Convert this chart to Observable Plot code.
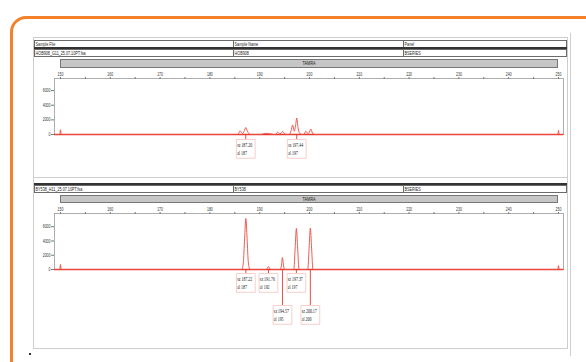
<!DOCTYPE html>
<html><head><meta charset="utf-8">
<script src="https://cdn.jsdelivr.net/npm/d3@7"></script>
<script src="https://cdn.jsdelivr.net/npm/@observablehq/plot@0.6"></script>
<style>
html,body{margin:0;padding:0;background:#fff;}
#page{position:relative;width:586px;height:362px;overflow:hidden;background:#fff;font-family:"Liberation Sans",Arial,sans-serif;}
.abs{position:absolute;box-sizing:border-box;}
.orange{left:10px;top:16px;width:640px;height:420px;border:3px solid #f5802a;border-radius:16px;}
.panel{left:33px;width:535px;border:1px solid #cdcdcd;}
.edge{left:570px;top:33px;width:1px;height:323px;background:#cfcfcf;}
.row{left:34px;width:533px;height:8px;border:1px solid #6b6b6b;background:#fff;}
.cell{position:absolute;top:0;font-size:6px;line-height:6px;white-space:nowrap;transform:scaleX(0.62);transform-origin:0 50%;padding-left:1px;color:#222;}
.vdiv{position:absolute;top:0;height:100%;width:1px;background:#6b6b6b;}
.thick{left:34px;width:533px;height:2px;background:#333;}
.bar{left:60px;width:498px;background:#c6c6c6;border:1px solid #777;}
.bar span{position:absolute;left:50%;top:0;font-size:5.5px;line-height:6px;color:#222;transform:translateX(-50%) scaleX(0.7);white-space:nowrap;}
.dot{left:29px;top:353px;width:2px;height:2px;background:#333;}
</style>
</head><body>
<div id="page"></div>
<script>
// ---- tick values & labels ----
const xTicks = [150, 160, 170, 180, 190, 200, 210, 220, 230, 240, 250];
const xMinorTicks = [155, 165, 175, 185, 195, 205, 215, 225, 235, 245];
const yTicks = [0, 2000, 4000, 6000];
const headerLabels = ["Sample File", "Sample Name", "Panel"];
const dyeName = "TAMRA";

// ---- sample 1: HOB908 ----
const hob908Row = ["HOB908_G11_25.07.10PT.fsa", "HOB908", "BSERIES"];
const hob908Size = [148.8, 149.85, 150.0, 150.15, 185.55, 185.85, 186.05, 186.35, 186.6, 186.9, 187.2, 187.5, 187.85, 188.2, 190.4, 190.9, 191.5, 192.2, 192.8, 193.2, 193.6, 194.0, 194.3, 194.6, 194.95, 195.4, 195.9, 196.3, 196.6, 196.95, 197.2, 197.44, 197.7, 198.05, 198.5, 198.9, 199.25, 199.65, 199.95, 200.25, 200.6, 201.0, 249.85, 250.0, 250.15, 251.0];
const hob908Rfu  = [0, 0, 650, 0, 0, 250, 500, 250, 150, 500, 950, 500, 120, 0, 0, 130, 160, 80, 0, 0, 330, 100, 150, 430, 150, 0, 0, 500, 1300, 450, 1200, 2250, 900, 150, 0, 0, 450, 150, 250, 750, 200, 0, 0, 550, 0, 0];
const hob908CallSize = [187.20, 197.44];
const hob908CallAllele = [187, 197];
const hob908CallRow = [1, 1];

// ---- sample 2: BY538 ----
const by538Row = ["BY538_H11_25.07.10PT.fsa", "BY538", "BSERIES"];
const by538Size = [148.8, 149.85, 150.0, 150.15, 186.4, 186.72, 186.97, 187.22, 187.47, 187.72, 188.05, 191.35, 191.6, 191.76, 191.92, 192.2, 194.1, 194.35, 194.57, 194.8, 195.05, 196.85, 197.12, 197.37, 197.62, 197.9, 199.65, 199.92, 200.17, 200.42, 200.7, 249.85, 250.0, 250.15, 251.0];
const by538Rfu  = [0, 0, 700, 0, 0, 1000, 4300, 7150, 4300, 1000, 0, 0, 250, 420, 250, 0, 0, 500, 1680, 500, 0, 0, 3000, 5750, 3000, 0, 0, 3000, 5800, 3000, 0, 0, 550, 0, 0];
const by538CallSize = [187.22, 191.76, 194.57, 197.37, 200.17];
const by538CallAllele = [187, 192, 195, 197, 200];
const by538CallRow = [1, 1, 2, 1, 2];

// ---- page scaffolding ----
const page = document.getElementById("page");
function el(parent, cls, css, text) {
  const d = document.createElement("div");
  d.className = "abs " + cls;
  Object.assign(d.style, css || {});
  if (text != null) d.textContent = text;
  parent.appendChild(d);
  return d;
}
el(page, "orange");
el(page, "panel", {top: "37px", height: "141px"});
el(page, "panel", {top: "177px", height: "172px"});
el(page, "edge");
el(page, "dot");

const colLeft = [0, 199, 369];
function tableRow(top, values) {
  const r = el(page, "row", {top: top + "px"});
  values.forEach((v, i) => {
    if (i > 0) { const dv = document.createElement("div"); dv.className = "vdiv"; dv.style.left = (colLeft[i] - 1) + "px"; r.appendChild(dv); }
    const c = document.createElement("div"); c.className = "cell"; c.style.left = colLeft[i] + "px"; c.textContent = v; r.appendChild(c);
  });
}
function dyeBar(top, h) {
  const b = el(page, "bar", {top: top + "px", height: h + "px"});
  const s = document.createElement("span"); s.textContent = dyeName; b.appendChild(s);
}

tableRow(40, headerLabels);
el(page, "thick", {top: "47px"});
tableRow(49, hob908Row);
dyeBar(59, 9);

el(page, "thick", {top: "183px"});
tableRow(185, by538Row);
dyeBar(195, 8);

// ---- plots ----
function condense(svg, sel, f) {
  svg.querySelectorAll(sel).forEach(t => {
    const w = t.getComputedTextLength();
    if (w > 0) { t.setAttribute("textLength", (w * f).toFixed(2)); t.setAttribute("lengthAdjust", "spacingAndGlyphs"); }
  });
}

function drawPanel({top, height, yMax, size, rfu, callSize, callAllele, callRow, rowGaps}) {
  const trace = size.map((s, i) => ({size: s, rfu: rfu[i]}));
  const calls = callSize.map((s, i) => ({size: s, allele: callAllele[i], row: callRow[i]}));
  const red = "#e23b30";
  const callMarks = [];
  for (const [row, gap] of Object.entries(rowGaps)) {
    const data = calls.filter(d => d.row === +row);
    if (!data.length) continue;
    callMarks.push(
      Plot.ruleX(data, {x: "size", y1: 0, y2: 0, insetBottom: -gap, stroke: red, strokeWidth: 0.9}),
      Plot.dot(data, {x: "size", y: 0, dy: gap + 9.4, symbol: "square", r: 10.6, fill: "#fff", stroke: "#f6c3be", strokeWidth: 0.8}),
      Plot.text(data, {x: "size", y: 0, dx: -8.6, dy: gap + 5.4, textAnchor: "start", text: d => "sz " + d.size.toFixed(2), fontSize: 5.1, fontFamily: "Liberation Serif, serif", fill: "#222"}),
      Plot.text(data, {x: "size", y: 0, dx: -8.6, dy: gap + 13.6, textAnchor: "start", text: d => "al " + d.allele, fontSize: 5.1, fontFamily: "Liberation Serif, serif", fill: "#222"})
    );
  }
  const svg = Plot.plot({
    width: 533, height,
    marginTop: 11, marginBottom: height - 67, marginLeft: 20, marginRight: 4,
    style: {fontFamily: "Liberation Sans, Arial, sans-serif", fontSize: "5px", color: "#333", background: "transparent", overflow: "visible"},
    x: {domain: [148.8, 251]},
    y: {domain: [0, yMax]},
    marks: [
      Plot.frame({stroke: "#9a9a9a", strokeWidth: 0.8}),
      Plot.axisX({anchor: "top", ticks: xMinorTicks, tickSize: 2, tickFormat: () => "", stroke: "#777", label: null}),
      Plot.axisX({anchor: "top", ticks: xTicks, tickSize: 2, tickPadding: 1, tickFormat: "d", stroke: "#777", fill: "#333", fontSize: 5, label: null}),
      Plot.axisY({anchor: "left", ticks: yTicks, tickSize: 3, tickPadding: 1, tickFormat: "d", stroke: "#777", fill: "#333", fontSize: 5, label: null}),
      Plot.ruleY([0], {stroke: red, strokeWidth: 1.7}),
      Plot.line(trace, {x: "size", y: "rfu", stroke: "#ec4a3f", strokeWidth: 0.9, curve: "monotone-x"}),
      ...callMarks
    ]
  });
  const wrap = el(page, "", {left: "34px", top: top + "px"});
  wrap.appendChild(svg);
  condense(svg, 'g[aria-label="text"] text', 0.77);
  condense(svg, 'g[aria-label$="tick label"] text', 0.7);
}

drawPanel({top: 67, height: 95, yMax: 7650, size: hob908Size, rfu: hob908Rfu,
  callSize: hob908CallSize, callAllele: hob908CallAllele, callRow: hob908CallRow, rowGaps: {1: 5}});
drawPanel({top: 202, height: 125, yMax: 7850, size: by538Size, rfu: by538Rfu,
  callSize: by538CallSize, callAllele: by538CallAllele, callRow: by538CallRow, rowGaps: {1: 4, 2: 36}});
</script>
</body></html>
